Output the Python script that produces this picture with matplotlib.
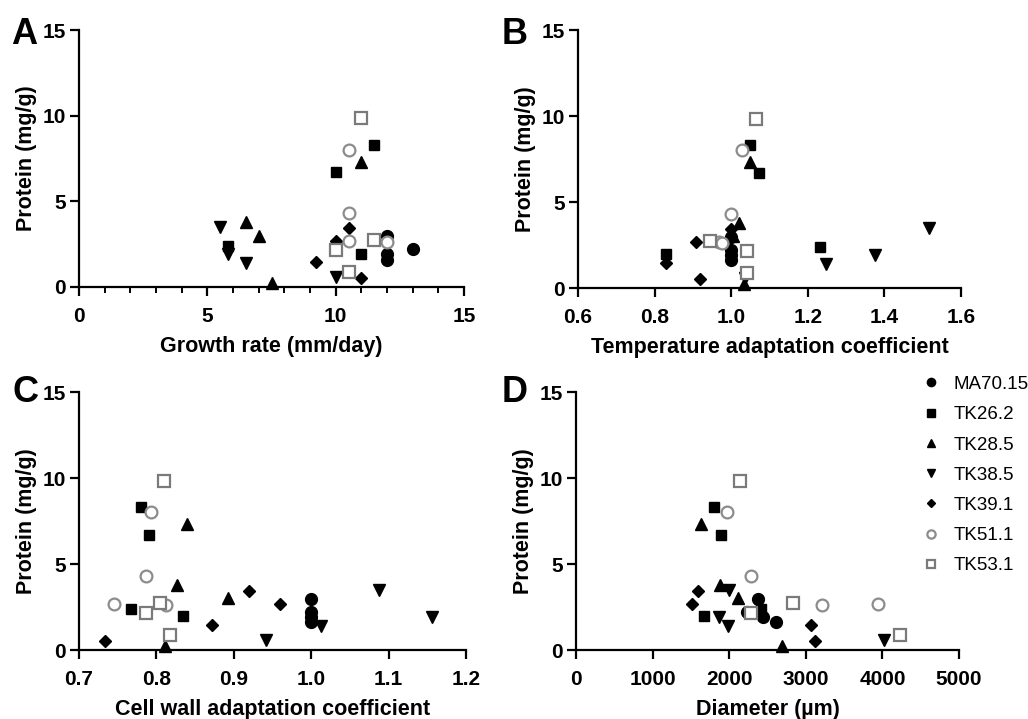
import matplotlib
matplotlib.use("Agg")
import matplotlib.pyplot as plt
from matplotlib.ticker import MultipleLocator

plt.rcParams["font.family"] = ["Liberation Sans", "DejaVu Sans"]

# Strains and their protein content (mg/g), four samples each
strains = ["MA70.15", "TK26.2", "TK28.5", "TK38.5", "TK39.1", "TK51.1", "TK53.1"]
protein = {
    "MA70.15": [2.95, 2.2, 1.9, 1.6],
    "TK26.2": [8.3, 6.7, 2.4, 1.95],
    "TK28.5": [7.3, 3.8, 3.0, 0.25],
    "TK38.5": [3.5, 1.9, 1.4, 0.6],
    "TK39.1": [3.45, 2.7, 1.45, 0.5],
    "TK51.1": [8.0, 4.3, 2.7, 2.6],
    "TK53.1": [9.85, 2.75, 2.15, 0.9],
}

# Panel A: growth rate (mm/day)
growth_rate = {
    "MA70.15": [12.0, 13.0, 12.0, 12.0],
    "TK26.2": [11.5, 10.0, 5.8, 11.0],
    "TK28.5": [11.0, 6.5, 7.0, 7.5],
    "TK38.5": [5.5, 5.8, 6.5, 10.0],
    "TK39.1": [10.5, 10.0, 9.25, 11.0],
    "TK51.1": [10.5, 10.5, 10.5, 12.0],
    "TK53.1": [11.0, 11.5, 10.0, 10.5],
}

# Panel B: temperature adaptation coefficient
temp_coef = {
    "MA70.15": [1.0, 1.0, 1.0, 1.0],
    "TK26.2": [1.05, 1.073, 1.231, 0.831],
    "TK28.5": [1.048, 1.02, 1.005, 1.033],
    "TK38.5": [1.516, 1.375, 1.248, 1.037],
    "TK39.1": [1.0, 0.909, 0.831, 0.918],
    "TK51.1": [1.029, 0.999, 0.967, 0.975],
    "TK53.1": [1.065, 0.945, 1.04, 1.041],
}

# Panel C: cell wall adaptation coefficient
wall_coef = {
    "MA70.15": [1.0, 1.0, 1.0, 1.0],
    "TK26.2": [0.780, 0.791, 0.767, 0.834],
    "TK28.5": [0.840, 0.826, 0.892, 0.811],
    "TK38.5": [1.087, 1.156, 1.0125, 0.941],
    "TK39.1": [0.919, 0.960, 0.872, 0.734],
    "TK51.1": [0.793, 0.786, 0.745, 0.812],
    "TK53.1": [0.810, 0.805, 0.786, 0.817],
}

# Panel D: diameter (um)
diameter = {
    "MA70.15": [2380, 2228, 2446, 2607],
    "TK26.2": [1806, 1889, 2415, 1671],
    "TK28.5": [1636, 1884, 2115, 2685],
    "TK38.5": [1993, 1862, 1980, 4025],
    "TK39.1": [1593, 1510, 3064, 3125],
    "TK51.1": [1967, 2285, 3938, 3212],
    "TK53.1": [2145, 2829, 2280, 4230],
}

styles = {
    "MA70.15": dict(marker="o", ms=8.5, mfc="black", mec="black"),
    "TK26.2": dict(marker="s", ms=7.5, mfc="black", mec="black"),
    "TK28.5": dict(marker="^", ms=8, mfc="black", mec="black"),
    "TK38.5": dict(marker="v", ms=8, mfc="black", mec="black"),
    "TK39.1": dict(marker="D", ms=6, mfc="black", mec="black"),
    "TK51.1": dict(marker="o", ms=8.5, mfc="white", mec="#8c8c8c", mew=1.6),
    "TK53.1": dict(marker="s", ms=8.5, mfc="white", mec="#7a7a7a", mew=1.6),
}

W, H = 1028, 719
fig = plt.figure(figsize=(W / 100, H / 100), dpi=100)


def add_ax(x0, x1, y_top, y_bot):
    return fig.add_axes([x0 / W, 1 - y_bot / H, (x1 - x0) / W, (y_bot - y_top) / H])


panels = [
    ("A", add_ax(79, 464, 30, 287), growth_rate, (0, 15), 5, "Growth rate (mm/day)", "%d"),
    ("B", add_ax(578, 961, 30, 288), temp_coef, (0.6, 1.6), 0.2, "Temperature adaptation coefficient", "%.1f"),
    ("C", add_ax(79, 466, 392, 650), wall_coef, (0.7, 1.2), 0.1, "Cell wall adaptation coefficient", "%.1f"),
    ("D", add_ax(576, 959, 392, 650), diameter, (0, 5000), 1000, "Diameter (\u00b5m)", "%d"),
]
# where the panel letters sit (figure pixels, left edge / centre)
letter_pos = {"A": (11, 34), "B": (502, 34), "C": (13, 393), "D": (502, 393)}

for letter, ax, xdata, xlim, step, xlabel, fmt in panels:
    for s in strains:
        ax.plot(xdata[s], protein[s], ls="none", clip_on=False, zorder=3, label=s, **styles[s])
    ax.set_xlim(*xlim)
    ax.set_ylim(0, 15)
    ax.xaxis.set_major_locator(MultipleLocator(step))
    ax.yaxis.set_major_locator(MultipleLocator(5))
    if letter == "A":
        ax.xaxis.set_minor_locator(MultipleLocator(1))
    ax.xaxis.set_major_formatter(plt.FormatStrFormatter(fmt))
    for side in ["top", "right"]:
        ax.spines[side].set_visible(False)
    for side in ["left", "bottom"]:
        ax.spines[side].set_linewidth(1.6)
    ax.tick_params(which="major", direction="out", length=6.5, width=1.6,
                   labelsize=15, pad=3)
    ax.tick_params(axis="x", which="major", pad=8)
    ax.tick_params(which="minor", direction="out", length=4, width=1.4)
    for lab in ax.get_xticklabels() + ax.get_yticklabels():
        lab.set_fontweight("bold")
    ax.set_xlabel(xlabel, fontsize=15.5, fontweight="bold", labelpad=7)
    ax.set_ylabel("Protein (mg/g)", fontsize=15.5, fontweight="bold", labelpad=4)
    lx, ly = letter_pos[letter]
    fig.text(lx / W, 1 - ly / H, letter, fontsize=26, fontweight="bold",
             ha="left", va="center")

# Legend next to panel D
handles, labels = panels[3][1].get_legend_handles_labels()
leg = fig.legend(handles, labels, loc="upper left", bbox_to_anchor=(903 / W, 1 - 359 / H),
                 frameon=False, fontsize=13.5, markerscale=0.7, handletextpad=0.6,
                 labelspacing=0.7, handlelength=1.2)

fig.savefig("out.png", dpi=100)
